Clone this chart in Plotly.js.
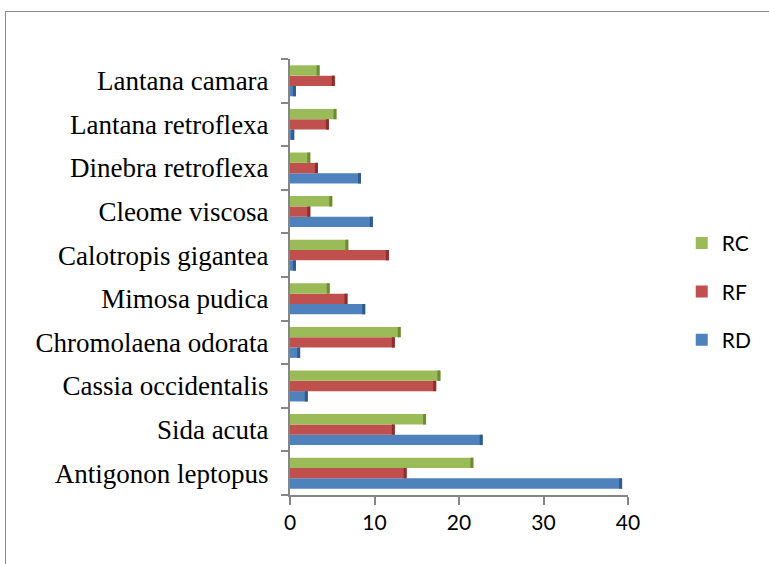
<!DOCTYPE html>
<html>
<head>
<meta charset="utf-8">
<script src="https://cdn.plot.ly/plotly-3.0.1.min.js"></script>
<style>
  html, body { margin: 0; padding: 0; background: #fff; }
  #wrap { position: relative; width: 769px; height: 564px; overflow: hidden; }
  #chart { width: 769px; height: 564px; }
  #frame { position: absolute; left: 5px; top: 11px; width: 800px; height: 600px;
           border-left: 1px solid #8a8a8a; border-top: 1px solid #8a8a8a; pointer-events: none; }
</style>
</head>
<body>
<div id="wrap">
  <div id="chart"></div>
  <div id="frame"></div>
</div>
<script>
const categories = ["Antigonon leptopus", "Sida acuta", "Cassia occidentalis", "Chromolaena odorata",
  "Mimosa pudica", "Calotropis gigantea", "Cleome viscosa", "Dinebra retroflexa",
  "Lantana retroflexa", "Lantana camara"];
const RD = [39.3, 22.8, 2.1, 1.2, 8.9, 0.7, 9.8, 8.4, 0.5, 0.7];
const RF = [13.8, 12.4, 17.3, 12.4, 6.8, 11.7, 2.4, 3.3, 4.6, 5.3];
const RC = [21.7, 16.1, 17.8, 13.1, 4.7, 6.9, 5.0, 2.4, 5.5, 3.5];
const xTicks = [0, 10, 20, 30, 40];

const series = [
  {name: "RD", values: RD, color: "#4F81BD", edge: "#2F5A8C", rank: 3},
  {name: "RF", values: RF, color: "#C0504D", edge: "#8C2E2B", rank: 2},
  {name: "RC", values: RC, color: "#9BBB59", edge: "#6E8A35", rank: 1}
];

const capW = 0.35;
const traces = [];
series.forEach(s => {
  traces.push({
    type: "bar", orientation: "h", name: s.name, y: categories, x: s.values,
    offsetgroup: s.name, legendgroup: s.name, legendrank: s.rank,
    marker: {color: s.color, line: {width: 0}},
    hoverinfo: "x+name"
  });
});
series.forEach(s => {
  traces.push({
    type: "bar", orientation: "h", name: s.name + " edge", y: categories,
    x: s.values.map(() => capW), base: s.values.map(v => v - capW),
    offsetgroup: s.name, legendgroup: s.name, legendrank: s.rank, showlegend: false,
    marker: {color: s.edge, line: {width: 0}}, hoverinfo: "skip"
  });
});

const layout = {
  width: 769, height: 564,
  margin: {l: 290, r: 137, t: 59, b: 69},
  paper_bgcolor: "#fff", plot_bgcolor: "#fff",
  barmode: "group", bargap: 0.29, bargroupgap: 0,
  showlegend: true,
  legend: {
    x: 1.159, xanchor: "left", y: 0.624, yanchor: "top",
    traceorder: "grouped", tracegroupgap: 18,
    font: {family: "Lato, 'Liberation Sans', sans-serif", size: 21, color: "#000"},
    bgcolor: "rgba(0,0,0,0)"
  },
  xaxis: {
    range: [0, 40], tickvals: xTicks, ticktext: xTicks.map(String),
    showgrid: false, zeroline: false, showline: true, linecolor: "#868686", linewidth: 2,
    ticks: "outside", ticklen: 8, tickwidth: 2, tickcolor: "#868686",
    tickfont: {family: "Lato, 'Liberation Sans', sans-serif", size: 21, color: "#000"},
    fixedrange: true
  },
  yaxis: {
    type: "category", categoryorder: "array", categoryarray: categories,
    showgrid: false, zeroline: false, showline: true, linecolor: "#868686", linewidth: 2,
    ticks: "outside", tickson: "boundaries", ticklen: 7, tickwidth: 2, tickcolor: "#868686",
    ticklabelstandoff: 14,
    tickfont: {family: "'Liberation Serif', 'Times New Roman', serif", size: 27, color: "#000"},
    fixedrange: true
  }
};

Plotly.newPlot("chart", traces, layout, {displayModeBar: false, staticPlot: true});
</script>
</body>
</html>
